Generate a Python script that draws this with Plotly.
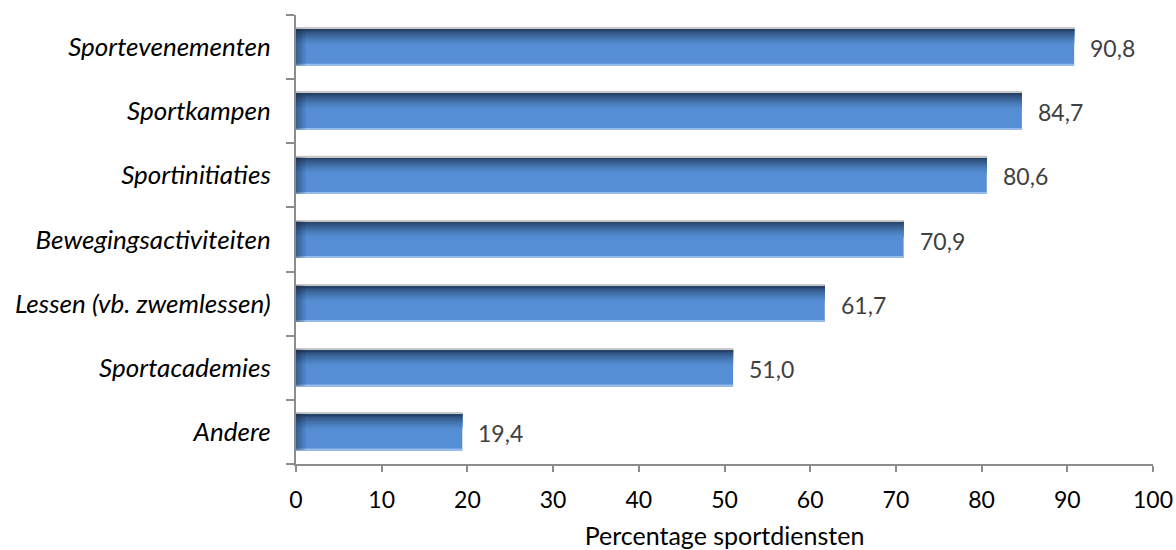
import plotly.graph_objects as go

# Sport service types (top to bottom) and share of sport services offering them (%)
categories = [
    "Sportevenementen",
    "Sportkampen",
    "Sportinitiaties",
    "Bewegingsactiviteiten",
    "Lessen (vb. zwemlessen)",
    "Sportacademies",
    "Andere",
]
values = [90.8, 84.7, 80.6, 70.9, 61.7, 51.0, 19.4]
x_ticks = [0, 10, 20, 30, 40, 50, 60, 70, 80, 90, 100]
x_title = "Percentage sportdiensten"

FONT = "Lato"
BAR_W = 0.57
MAIN = (85, 142, 213)
DARK = (38, 66, 104)


def rgb(c):
    return "rgb(%d,%d,%d)" % c


def mix(a, b, t):
    return tuple(round(a[i] + (b[i] - a[i]) * t) for i in range(3))


fig = go.Figure()


def add_layer(offset, width, color, xs=None):
    fig.add_trace(go.Bar(
        x=values if xs is None else xs,
        y=categories,
        orientation="h",
        offset=offset,
        width=width,
        marker=dict(color=color, line=dict(width=0)),
        hoverinfo="skip" if xs is not None else None,
        showlegend=False,
    ))


# base fill
add_layer(-BAR_W / 2, BAR_W, rgb(MAIN))

# darker band fading in from the top edge
steps = 10
top_depth = BAR_W * 0.45
for k in range(steps, 0, -1):
    d = top_depth * k / steps
    t = 1 - (k - 1) / steps
    add_layer(BAR_W / 2 - d, d, rgb(mix(MAIN, DARK, t ** 1.5)), xs=values)

# light rim along the bottom and thin grey rim on top
add_layer(-BAR_W / 2, 0.025, "rgb(150,188,235)", xs=values)
add_layer(BAR_W / 2, 0.02, "rgb(200,200,200)", xs=values)

# shading at the left end of every bar
for w in [1.1, 0.8, 0.5, 0.25]:
    add_layer(-BAR_W / 2, BAR_W, "rgba(20,40,70,0.13)", xs=[w] * len(values))

# value labels
for cat, v in zip(categories, values):
    fig.add_annotation(
        x=v, y=cat, text=f"{v:.1f}".replace(".", ","),
        xanchor="left", yanchor="middle", xshift=14, yshift=-1, showarrow=False,
        font=dict(family=FONT, size=23, color="#404040"),
    )

fig.update_layout(
    width=1176,
    height=550,
    barmode="overlay",
    plot_bgcolor="white",
    paper_bgcolor="white",
    margin=dict(l=296, r=23, t=15, b=86),
    font=dict(family=FONT, size=23, color="black"),
    xaxis=dict(
        range=[0, 100],
        automargin=False,
        tickvals=x_ticks,
        ticktext=[str(t) for t in x_ticks],
        ticks="outside",
        ticklen=6,
        tickwidth=2,
        tickcolor="#8c8c8c",
        showline=True,
        linecolor="#8c8c8c",
        linewidth=2,
        showgrid=False,
        zeroline=False,
        ticklabelstandoff=8,
        tickfont=dict(family=FONT, size=23, color="black"),
        title=dict(text=x_title, standoff=27,
                   font=dict(family=FONT, size=25, color="black")),
    ),
    yaxis=dict(
        categoryorder="array",
        categoryarray=list(reversed(categories)),
        automargin=False,
        tickson="boundaries",
        ticks="outside",
        ticklen=8,
        tickwidth=2,
        tickcolor="#8c8c8c",
        showline=True,
        linecolor="#8c8c8c",
        linewidth=2,
        showgrid=False,
        zeroline=False,
        ticklabelstandoff=18,
        tickfont=dict(family=FONT, size=26, color="black", style="italic"),
    ),
)

fig.write_html("out.html")
